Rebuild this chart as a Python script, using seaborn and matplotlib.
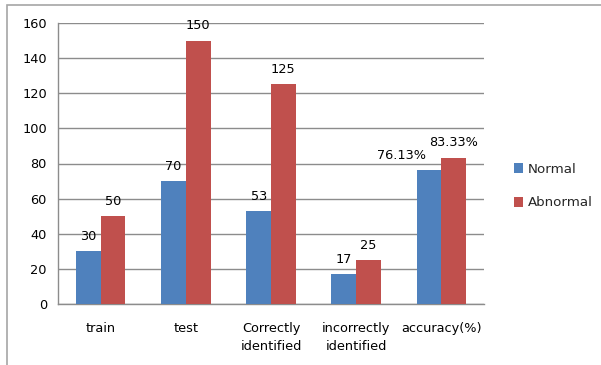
import matplotlib
matplotlib.use("Agg")
import matplotlib.pyplot as plt
from matplotlib.patches import Rectangle, Patch
from matplotlib.ticker import FixedLocator
import seaborn as sns
import pandas as pd

categories = ["train", "test", "Correctly\nidentified", "incorrectly\nidentified", "accuracy(%)"]
normal = [30, 70, 53, 17, 76.13]
abnormal = [50, 150, 125, 25, 83.33]
normal_labels = ["30", "70", "53", "17", "76.13%"]
abnormal_labels = ["50", "150", "125", "25", "83.33%"]
series = ["Normal", "Abnormal"]
colors = ["#4F81BD", "#C0504D"]

df = pd.DataFrame({
    "category": categories * 2,
    "value": normal + abnormal,
    "series": [series[0]] * len(categories) + [series[1]] * len(categories),
})

sns.set_style("white")
plt.rcParams["font.family"] = ["DejaVu Sans"]
FS = 9.3

fig = plt.figure(figsize=(6.01, 3.65), dpi=100)
ax = fig.add_axes([58 / 601, 1 - 304 / 365, (484 - 58) / 601, (304 - 23) / 365])

sns.barplot(data=df, x="category", y="value", hue="series", order=categories,
            hue_order=series, palette=colors, width=0.58, saturation=1,
            ax=ax, legend=False, zorder=3)

for p in ax.patches:
    p.set_linewidth(0)

ax.set_ylim(0, 160)
ax.set_xlim(-0.5, len(categories) - 0.5)
ax.set_yticks(range(0, 161, 20))
ax.yaxis.grid(True, color="#8C8C8C", linewidth=1, zorder=0)
ax.set_axisbelow(True)
ax.set_xlabel("")
ax.set_ylabel("")

for s in ["top", "right"]:
    ax.spines[s].set_visible(False)
for s in ["left", "bottom"]:
    ax.spines[s].set_color("#8C8C8C")
    ax.spines[s].set_linewidth(1)

ax.tick_params(axis="y", length=5, color="#8C8C8C", labelsize=FS, pad=3, labelcolor="#000000")
ax.tick_params(axis="x", which="major", length=0, labelsize=FS, pad=13, labelcolor="#000000")
ax.xaxis.set_minor_locator(FixedLocator([i - 0.5 for i in range(len(categories) + 1)]))
ax.tick_params(axis="x", which="minor", length=5, color="#8C8C8C", direction="out")
for lbl in ax.get_xticklabels():
    lbl.set_linespacing(1.45)

# value labels above each bar
bars = ax.containers
offsets = {(0, 4): -20}
for si, (cont, labels) in enumerate(zip(bars, [normal_labels, abnormal_labels])):
    for ci, (bar, txt) in enumerate(zip(cont, labels)):
        dx = offsets.get((si, ci), 0)
        ax.annotate(txt, (bar.get_x() + bar.get_width() / 2, bar.get_height()),
                    xytext=(dx, 6), textcoords="offset points",
                    ha="center", va="bottom", fontsize=FS, color="#000000")

handles = [Patch(facecolor=c, edgecolor="none") for c in colors]
fig.legend(handles, series, loc="center left", bbox_to_anchor=(502 / 601, 1 - 186 / 365),
           frameon=False, handlelength=0.65, handleheight=0.75, handletextpad=0.4,
           labelspacing=1.55, fontsize=FS + 0.3)

# outer chart frame
fig.patches.append(Rectangle((7 / 601, -0.05), 1.0, 1 - 5 / 365 + 0.05,
                             transform=fig.transFigure, fill=False,
                             edgecolor="#A6A6A6", linewidth=1.2))

fig.savefig("out.png", dpi=100)
